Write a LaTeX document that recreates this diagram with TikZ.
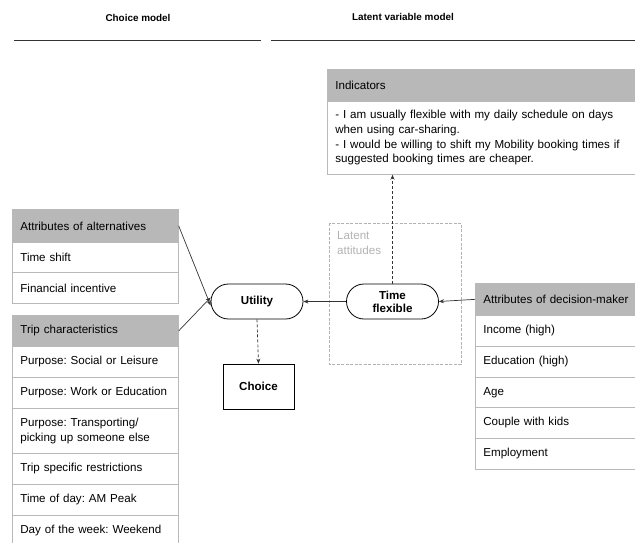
\documentclass[tikz,border=0pt]{standalone}
\usepackage{fontspec}
\setmainfont{Liberation Sans}
\usetikzlibrary{arrows.meta,shapes.misc}
\definecolor{headgrey}{RGB}{184,184,184}
\definecolor{linegrey}{RGB}{185,185,185}
\definecolor{latgrey}{RGB}{178,178,178}
\frenchspacing
\begin{document}
\begin{tikzpicture}[x=1pt,y=-1pt,
  cell/.style={draw=linegrey, line width=0.7pt, fill=white, anchor=north west, text width=#1, inner xsep=8pt, inner ysep=0pt, align=left, font=\fontsize{11.6}{14.7}\selectfont},
  head/.style={cell=#1, fill=headgrey},
  ttl/.style={font=\fontsize{9.9}{12}\selectfont\bfseries},
  pill/.style={draw, line width=0.8pt, rounded rectangle, minimum width=92pt, minimum height=35pt, inner sep=0pt, align=center, font=\fontsize{11.6}{13}\selectfont\bfseries},
  arr/.style={-{Stealth[length=5pt,width=4pt]}, line width=0.7pt, draw=black!80},
  darr/.style={arr, dash pattern=on 3pt off 2pt}
]
\useasboundingbox (0,0) rectangle (635,542);
\clip (0,0) rectangle (635,542);
% titles
\node[ttl] (tchoice) at (138,18) {Choice model};
\node[ttl] (tlatent) at (403,17) {Latent variable model};
\draw[line width=0.9pt, draw=black!80] (14,40) -- (261,40);
\draw[line width=0.9pt, draw=black!80] (271,40) -- (640,40);
% indicators
\node[head=297pt, minimum height=32pt] (ind) at (327,69) {Indicators};
\node[cell=297pt, minimum height=73pt] (indb) at (327,101) {- I am usually flexible with my daily schedule on days\\when using car-sharing.\\- I would be willing to shift my Mobility booking times if\\suggested booking times are cheaper.};
% latent box
\draw[draw=latgrey, line width=0.9pt, dash pattern=on 3pt off 1.5pt] (329,223) rectangle (461,364);
\node[anchor=north west, align=left, text=latgrey, font=\fontsize{11.6}{15}\selectfont, inner sep=0pt] (latlab) at (337,231) {Latent\\attitudes};
% table 1
\node[head=150pt, minimum height=33pt] (a0) at (12,209) {Attributes of alternatives};
\node[cell=150pt, minimum height=30pt] (a1) at (12,242) {Time shift};
\node[cell=150pt, minimum height=31pt] (a2) at (12,272) {Financial incentive};
% table 2
\node[head=150pt, minimum height=31pt] (b0) at (12,315) {Trip characteristics};
\node[cell=150pt, minimum height=31pt] (b1) at (12,346) {Purpose: Social or Leisure};
\node[cell=150pt, minimum height=31pt] (b2) at (12,377) {Purpose: Work or Education};
\node[cell=150pt, minimum height=45pt] (b3) at (12,408) {Purpose: Transporting/\\picking up someone else};
\node[cell=150pt, minimum height=31pt] (b4) at (12,453) {Trip specific restrictions};
\node[cell=150pt, minimum height=31pt] (b5) at (12,484) {Time of day: AM Peak};
\node[cell=150pt, minimum height=31pt] (b6) at (12,515) {Day of the week: Weekend};
% right table
\node[head=150pt, minimum height=32pt] (c0) at (475,283) {Attributes of decision-maker};
\node[cell=150pt, minimum height=31pt] (c1) at (475,315) {Income (high)};
\node[cell=150pt, minimum height=31pt] (c2) at (475,346) {Education (high)};
\node[cell=150pt, minimum height=30pt] (c3) at (475,377) {Age};
\node[cell=150pt, minimum height=31pt] (c4) at (475,407) {Couple with kids};
\node[cell=150pt, minimum height=31pt] (c5) at (475,438) {Employment};
% pills
\node[pill] (util) at (257,301.5) {Utility};
\node[pill] (flex) at (392.5,301.5) {Time\\flexible};
\node[draw, line width=0.8pt, minimum width=71pt, minimum height=45pt, inner sep=0pt, font=\fontsize{11.6}{13}\selectfont\bfseries] (choice) at (258.5,386.5) {Choice};
% connectors
\coordinate (u1) at ([yshift=-4pt]util.west);
\coordinate (u2) at ([yshift=4pt]util.west);
\draw[arr] (a0.east) -- (u1);
\draw[arr] (b0.east) -- (u2);
\draw[arr] (c0.west) -- (flex.east);
\draw[arr] (flex.west) -- (util.east);
\draw[darr] (util.south) -- (choice.north);
\draw[darr] (flex.north) -- (indb.south -| flex.north);
\end{tikzpicture}
\end{document}
